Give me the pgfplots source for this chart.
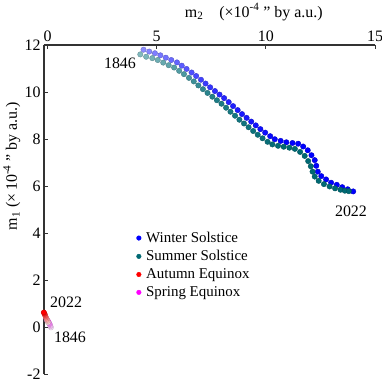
\documentclass[border=0pt]{standalone}
\usepackage{pgfplots}
\pgfplotsset{compat=1.18}
\usepackage{pgfplotstable}
\usepackage{fontspec}
\setmainfont{Liberation Serif}

\definecolor{winterc}{RGB}{0,0,255}
\definecolor{summerc}{RGB}{0,105,115}
\definecolor{autumnc}{RGB}{255,0,0}
\definecolor{springc}{RGB}{255,0,255}

\pgfplotsset{
  colormap={winter}{rgb255=(140,140,255) rgb255=(40,40,255) rgb255=(0,0,255) rgb255=(0,0,255)},
  colormap={summer}{rgb255=(130,185,190) rgb255=(30,125,135) rgb255=(0,105,115) rgb255=(0,105,115)},
  colormap={autumn}{rgb255=(255,225,225) rgb255=(255,120,120) rgb255=(255,0,0)},
  colormap={spring}{rgb255=(255,230,255) rgb255=(255,130,255) rgb255=(255,0,255)},
}

% winter solstice
\pgfplotstableread{
x y yr
4.40 11.80 1846
4.66 11.72 1850
4.92 11.65 1854
5.17 11.56 1858
5.42 11.46 1862
5.67 11.36 1866
5.93 11.26 1870
6.15 11.12 1874
6.37 10.98 1878
6.60 10.83 1882
6.81 10.68 1886
7.03 10.52 1890
7.24 10.36 1894
7.45 10.20 1898
7.67 10.04 1902
7.88 9.89 1906
8.09 9.74 1910
8.30 9.57 1914
8.50 9.40 1918
8.71 9.23 1922
8.91 9.06 1926
9.12 8.90 1930
9.33 8.74 1934
9.54 8.58 1938
9.75 8.42 1942
9.97 8.27 1946
10.20 8.12 1950
10.41 7.99 1954
10.68 7.92 1958
10.94 7.86 1962
11.22 7.83 1966
11.48 7.80 1970
11.71 7.68 1974
11.92 7.52 1978
12.09 7.31 1982
12.24 7.10 1986
12.31 6.86 1990
12.38 6.61 1994
12.54 6.42 1998
12.76 6.28 2002
12.99 6.14 2006
13.25 6.05 2010
13.50 5.95 2014
13.75 5.86 2018
14.00 5.77 2022
}\winter

% summer solstice
\pgfplotstableread{
x y yr
4.25 11.60 1846
4.52 11.50 1850
4.80 11.44 1854
5.05 11.36 1858
5.30 11.25 1862
5.55 11.14 1866
5.80 11.04 1870
6.03 10.90 1874
6.25 10.76 1878
6.48 10.60 1882
6.70 10.45 1886
6.91 10.28 1890
7.12 10.12 1894
7.33 9.96 1898
7.55 9.80 1902
7.76 9.65 1906
7.97 9.50 1910
8.18 9.33 1914
8.38 9.16 1918
8.59 8.99 1922
8.79 8.82 1926
9.00 8.66 1930
9.21 8.50 1934
9.42 8.34 1938
9.63 8.18 1942
9.85 8.03 1946
10.08 7.88 1950
10.30 7.77 1954
10.56 7.71 1958
10.82 7.67 1962
11.08 7.63 1966
11.33 7.58 1970
11.57 7.45 1974
11.78 7.28 1978
11.94 7.06 1982
12.06 6.84 1986
12.14 6.61 1990
12.24 6.40 1994
12.42 6.22 1998
12.66 6.08 2002
12.92 5.98 2006
13.17 5.90 2010
13.42 5.84 2014
13.62 5.80 2018
13.80 5.78 2022
}\summer

% autumn equinox
\pgfplotstableread{
x y yr
0.02 0.20 1846
0.00 0.25 1866
-0.02 0.30 1885
-0.04 0.35 1905
-0.07 0.40 1924
-0.09 0.45 1944
-0.11 0.50 1963
-0.13 0.55 1983
-0.15 0.59 2002
-0.17 0.62 2022
}\autumn

% spring equinox
\pgfplotstableread{
x y yr
0.16 -0.02 1846
0.14 0.03 1866
0.12 0.08 1885
0.10 0.12 1905
0.08 0.16 1924
0.05 0.20 1944
0.03 0.24 1963
0.00 0.28 1983
-0.03 0.31 2002
-0.05 0.34 2022
}\spring

\begin{document}
\begin{tikzpicture}
\begin{axis}[
  scale only axis,
  width=331bp, height=329bp,
  xmin=-0.16, xmax=15,
  ymin=-2, ymax=12,
  axis x line=top,
  axis y line=left,
  axis line style={-, black!80, line width=1.2bp},
  tick align=inside,
  major tick length=4bp,
  tick style={black!80, line width=0.8bp},
  xtick={0,5,10,15},
  ytick={-2,0,2,4,6,8,10,12},
  font=\fontsize{16}{19}\selectfont,
  /pgf/number format/assume math mode=true,
  clip=false,
  point meta min=1846, point meta max=2022,
  xlabel={m\textsubscript{2}\quad(\texttimes10\textsuperscript{-4} '' by a.u.)},
  xlabel style={at={(axis description cs:0.634,1.10)}, anchor=center},
  ylabel={m\textsubscript{1} (\texttimes\,10\textsuperscript{-4} '' by a.u.)},
  ylabel style={at={(axis description cs:-0.097,0.632)}, anchor=center},
  legend style={draw=none, fill=none, font=\fontsize{15}{18}\selectfont,
    at={(axis description cs:0.27,0.444)}, anchor=north west,
    row sep=2.5bp, column sep=3bp},
  legend cell align=left,
]
\addlegendimage{only marks, mark=*, mark size=2.3bp, color=winterc}
\addlegendentry{Winter Solstice}
\addlegendimage{only marks, mark=*, mark size=2.3bp, color=summerc}
\addlegendentry{Summer Solstice}
\addlegendimage{only marks, mark=*, mark size=2.3bp, color=autumnc}
\addlegendentry{Autumn Equinox}
\addlegendimage{only marks, mark=*, mark size=2.3bp, color=springc}
\addlegendentry{Spring Equinox}

\addplot[scatter, only marks, mark=*, mark size=2.7bp, colormap name=winter,
  point meta=explicit, forget plot] table[x=x, y=y, meta=yr] {\winter};
\addplot[scatter, only marks, mark=*, mark size=2.7bp, colormap name=summer,
  point meta=explicit, forget plot] table[x=x, y=y, meta=yr] {\summer};
\addplot[scatter, only marks, mark=*, mark size=2.6bp, colormap name=spring,
  point meta=explicit, forget plot] table[x=x, y=y, meta=yr] {\spring};
\addplot[scatter, only marks, mark=*, mark size=2.6bp, colormap name=autumn,
  point meta=explicit, forget plot] table[x=x, y=y, meta=yr] {\autumn};

\node[font=\fontsize{16}{19}\selectfont] at (axis cs:3.32,11.23) {1846};
\node[font=\fontsize{16}{19}\selectfont] at (axis cs:13.9,4.94) {2022};
\node[font=\fontsize{16}{19}\selectfont] at (axis cs:0.85,1.06) {2022};
\node[font=\fontsize{16}{19}\selectfont] at (axis cs:1.03,-0.43) {1846};
\end{axis}
\pgfresetboundingbox
\useasboundingbox (-44bp,-8bp) rectangle (338bp,374bp);
\end{tikzpicture}
\end{document}
